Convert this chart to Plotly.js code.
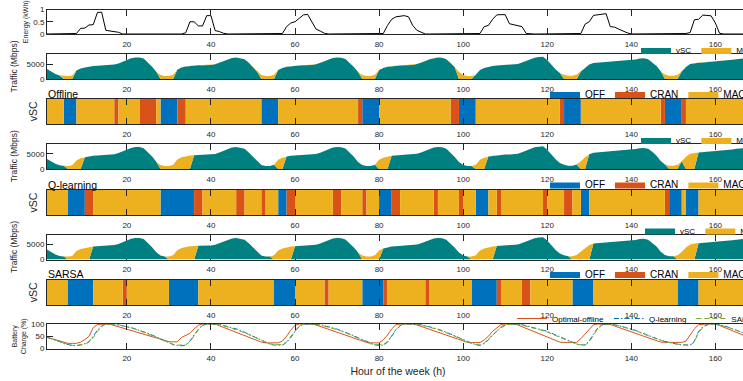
<!DOCTYPE html>
<html><head><meta charset="utf-8">
<script src="https://cdn.plot.ly/plotly-3.0.1.min.js"></script>
<style>html,body{margin:0;padding:0;overflow:hidden;background:#fff}</style>
</head><body><div id="chart"></div>
<script>
// ---------------- DATA ----------------
const hours = Array.from({length:168},(_,i)=>i+1);
const hourTicks = [20,40,60,80,100,120,140,160];

const energyKWh = [
 0,0,0,0,0,0,0,0.02,0.23,0.24,0.37,0.38,0.88,0.89,0.15,0.12,0.1,0.07,0,0,0,0,0,0,
 0,0,0,0,0,0,0,0,0,0.05,0.5,0.5,0.33,0.33,0.75,0.75,0.14,0.1,0.03,0,0,0,0,0,
 0,0,0,0,0,0,0,0,0.02,0.3,0.45,0.5,0.65,0.78,0.8,0.5,0.2,0.12,0.03,0,0,0,0,0,
 0,0,0,0,0,0,0,0,0.02,0.35,0.6,0.7,0.72,0.75,0.7,0.35,0.15,0.08,0,0,0,0,0,0,
 0,0,0,0,0,0,0,0.02,0.3,0.35,0.6,0.78,0.79,0.79,0.42,0.38,0.35,0.3,0.02,0,0,0,0,0,
 0,0,0,0,0,0,0,0.02,0.4,0.5,0.76,0.79,0.8,0.83,0.3,0.28,0.2,0.12,0.05,0,0,0,0,0,
 0,0,0,0,0,0,0,0,0.02,0.06,0.58,0.6,0.77,0.76,0.74,0.45,0.03,0,0,0,0,0,0,0
];

const trafficMbps = [
 3300,2500,1700,1200,1000,1000,1200,2800,3500,3800,4100,4300,4400,4500,4600,4600,4800,5200,5800,6400,6900,7200,7200,6800,
 5500,4100,2400,1300,1000,1000,1400,3100,3800,4200,4400,4500,4600,4600,4600,4700,4900,5400,5900,6500,7000,7200,7000,6600,
 5400,4000,2400,1300,1000,1000,1400,3000,3700,4100,4300,4400,4500,4600,4600,4700,4900,5300,5900,6500,7000,7200,7100,6700,
 5500,4000,2300,1300,1000,1000,1400,3000,3700,4100,4300,4400,4500,4600,4600,4700,5000,5400,6000,6600,7000,7200,7100,6600,
 5300,3900,2300,1300,1000,1000,1400,3000,3700,4100,4300,4500,4600,4700,4700,4800,5000,5500,6100,6700,7100,7300,7400,6300,
 4700,3200,2000,1400,1100,1100,1500,2500,3800,4800,5300,5400,5500,5600,5700,5800,5900,6000,6100,6300,6500,6800,6900,6600,
 5600,4300,2600,1500,1100,1100,1400,2500,4000,5000,5300,5400,5500,5600,5700,5800,5900,6000,6200,6400,6600,6800,6900,7000
];

// vSC operating mode schedules: hour ranges [first, last]; all other hours are MAC/PHY
const offlineOFF  = [[5,7],[28,31],[52,55],[76,79],[99,102],[124,127],[148,151]];
const offlineCRAN = [[17,17],[23,26],[32,33],[75,75],[97,98],[123,123],[147,147],[152,152]];
const qlearnOFF   = [[6,9],[28,35],[56,57],[80,82],[103,105],[128,129],[149,151],[153,155]];
const qlearnCRAN  = [[10,11],[36,37],[46,47],[52,52],[58,59],[69,70],[76,76],[83,84],[93,93],[99,99],[108,108],[119,119],[124,125],[148,148]];
const sarsaOFF    = [[6,11],[30,36],[55,59],[76,80],[102,107],[126,130],[151,155]];
const sarsaCRAN   = [[19,19],[67,67],[81,81],[91,91],[108,108],[114,115]];

const batteryOffline = [
 46,41,35,29,23,21,21,21,26,36,50,85,98,100,100,99,94,89,84,79,74,69,64,59,
 54,49,44,39,33,28,27,27,45,55,62,80,95,100,100,100,100,93,86,79,72,65,58,51,
 44,38,32,26,23,23,23,23,30,50,75,95,100,100,100,100,96,90,84,78,72,66,60,54,
 48,42,36,30,25,23,23,23,35,55,80,97,100,100,100,100,96,90,84,78,72,66,60,54,
 48,42,36,30,25,24,24,24,35,50,70,85,98,100,100,100,96,89,82,75,68,61,54,47,
 40,33,26,25,25,25,25,40,60,80,97,100,100,100,98,92,86,80,74,68,62,56,50,44,
 38,32,26,25,25,25,25,25,30,55,80,97,100,100,100,100,94,87,80,73,66,59,52,45
];
const batteryQ = [
 45,40,34,28,20,15,12,12,14,20,28,50,75,92,100,100,100,96,93,89,85,80,75,69,
 62,55,47,38,30,22,16,12,11,14,30,55,78,95,100,100,100,98,94,90,85,80,74,67,
 58,50,42,34,26,18,14,13,14,25,45,70,90,100,100,100,100,97,93,89,84,79,73,67,
 60,52,44,36,28,20,15,13,14,25,50,75,93,100,100,100,100,97,93,89,84,79,73,67,
 60,52,44,36,28,20,15,13,20,35,55,70,85,95,100,100,100,97,93,89,84,79,76,70,
 63,55,47,40,32,24,18,15,14,30,60,83,97,100,100,97,93,89,85,80,74,67,60,53,
 46,40,34,29,24,20,17,15,14,14,30,70,88,97,100,100,97,93,88,82,75,68,61,54
];
const batterySARSA = [
 46,41,35,29,22,16,13,13,14,18,26,45,70,90,100,100,100,97,93,89,84,79,73,67,
 61,54,46,38,30,22,17,14,13,15,28,52,76,94,100,100,100,97,93,88,83,78,72,65,
 57,49,41,33,25,19,16,15,16,28,48,72,92,100,100,100,100,96,92,87,82,77,71,65,
 58,50,42,34,26,19,16,15,16,28,52,77,95,100,100,100,100,96,92,87,82,77,71,65,
 58,50,42,34,27,20,16,15,22,38,58,74,88,97,100,100,100,96,92,87,82,77,73,67,
 60,52,45,38,31,24,18,15,14,27,55,80,95,100,100,97,93,89,84,79,73,66,59,52,
 45,39,33,28,24,20,17,15,14,13,26,65,85,96,100,100,96,92,87,81,74,67,60,53
];

const modeNames = ['OFF','CRAN','MAC/PHY'];
const trafficNames = ['vSC','MBS'];
const batteryNames = ['Optimal-offline','Q-learning','SARSA'];
const schemeTitles = ['Offline','Q-learning','SARSA'];

// ---------------- STYLE ----------------
const FONT = '"Liberation Sans", Arial, Helvetica, sans-serif';
const AX = '#262626';
const TEAL = '#008080', YEL = '#EDB120', BLUE = '#0072BD', RED = '#D95319', GREEN = '#77AC30';
const modeColors = {'OFF':BLUE,'CRAN':RED,'MAC/PHY':YEL};
const W = 900, H = 381, ML = 47, PW = 702;
// panel pixel extents (top, bottom)
const panels = [[9.5,34],[54,79],[98.5,124],[143.5,169],[190,215],[234.5,259.5],[279.5,305],[324,348.5]];
const dom = p => [(H-p[1])/H, (H-p[0])/H];

function buildModes(off, cran){
  const m = hours.map(()=> 'MAC/PHY');
  off.forEach(([a,b])=>{ for(let h=a;h<=b;h++) m[h-1]='OFF'; });
  cran.forEach(([a,b])=>{ for(let h=a;h<=b;h++) m[h-1]='CRAN'; });
  return m;
}
function rects(modes, cat){
  const xs=[], ys=[]; let i=0;
  while(i<modes.length){
    if(modes[i]===cat){
      const s=i; while(i<modes.length && modes[i]===cat) i++;
      const x0=hours[s], x1=hours[i-1]+1;
      xs.push(x0,x0,x1,x1,x0,null); ys.push(0,1,1,0,0,null);
    } else i++;
  }
  return {xs, ys};
}

const schedules = [buildModes(offlineOFF,offlineCRAN), buildModes(qlearnOFF,qlearnCRAN), buildModes(sarsaOFF,sarsaCRAN)];

const traces = [];
traces.push({x:hours, y:energyKWh, xaxis:'x', yaxis:'y', mode:'lines', line:{color:'#000', width:1}, showlegend:false});

schedules.forEach((modes, k)=>{
  const tIdx = 2 + 2*k, sIdx = 3 + 2*k;
  const legT = k===0 ? 'legend' : 'legend' + (1 + 2*k);
  const legS = 'legend' + (2 + 2*k);
  const vsc = trafficMbps.map((v,i)=> modes[i]==='OFF' ? 0 : v);
  const mb  = trafficMbps.map((v,i)=> modes[i]==='OFF' ? v : 0);
  traces.push({x:hours, y:vsc, xaxis:'x'+tIdx, yaxis:'y'+tIdx, mode:'lines', stackgroup:'s'+k, line:{width:0, color:TEAL}, fillcolor:TEAL, name:trafficNames[0], legend:legT});
  traces.push({x:hours, y:mb,  xaxis:'x'+tIdx, yaxis:'y'+tIdx, mode:'lines', stackgroup:'s'+k, line:{width:0, color:YEL}, fillcolor:YEL, name:trafficNames[1], legend:legT});
  modeNames.forEach(cat=>{
    const r = rects(modes, cat);
    traces.push({x:r.xs, y:r.ys, xaxis:'x'+sIdx, yaxis:'y'+sIdx, mode:'lines', fill:'toself', fillcolor:modeColors[cat], line:{width:0, color:modeColors[cat]}, name:cat, legend:legS, hoverinfo:'skip'});
  });
});

traces.push({x:hours, y:batteryOffline, xaxis:'x8', yaxis:'y8', mode:'lines', line:{color:RED, width:1}, name:batteryNames[0], legend:'legend7'});
traces.push({x:hours, y:batteryQ, xaxis:'x8', yaxis:'y8', mode:'lines', line:{color:BLUE, width:1, dash:'5px,2px,1.5px,2px'}, name:batteryNames[1], legend:'legend7'});
traces.push({x:hours, y:batterySARSA, xaxis:'x8', yaxis:'y8', mode:'lines', line:{color:GREEN, width:1, dash:'5px,3px'}, name:batteryNames[2], legend:'legend7'});

const layout = {
  width:W, height:H, margin:{l:ML, r:W-ML-PW, t:0, b:0, autoexpand:false},
  paper_bgcolor:'#fff', plot_bgcolor:'#fff',
  font:{family:FONT, color:AX, size:8},
  annotations:[], showlegend:true
};

const yCfg = [
  {range:[0,1], tickvals:[0,0.5,1], ticktext:['0','0.5','1'], title:'Energy (kWh)', tsize:7, standoff:3},
  {range:[0,8333], tickvals:[0,5000], title:'Traffic (Mbps)', tsize:8.5, standoff:7},
  {range:[0,1], tickvals:[], title:'vSC', tsize:10.5, standoff:4},
  {range:[0,8333], tickvals:[0,5000], title:'Traffic (Mbps)', tsize:8.5, standoff:7},
  {range:[0,1], tickvals:[], title:'vSC', tsize:10.5, standoff:4},
  {range:[0,8333], tickvals:[0,5000], title:'Traffic (Mbps)', tsize:8.5, standoff:7},
  {range:[0,1], tickvals:[], title:'vSC', tsize:10.5, standoff:4},
  {range:[0,100], tickvals:[0,50,100], title:'Battery<br>Charge (%)', tsize:7, standoff:3}
];

for(let i=1;i<=8;i++){
  const sfx = i===1 ? '' : String(i);
  const isTraffic = (i===2||i===4||i===6);
  const isStrip = (i===3||i===5||i===7);
  layout['xaxis'+sfx] = {
    domain:[0,1], anchor:'y'+sfx, range:[1,168], tickvals:hourTicks,
    ticks:'inside', ticklen:6, tickcolor:AX, tickwidth:1, ticklabelstandoff:2,
    showline:true, linecolor:AX, linewidth:1, mirror:'ticks', showgrid:false, zeroline:false,
    tickfont:{size:8, color:AX, family:FONT},
    layer: isTraffic ? 'below traces' : 'above traces'
  };
  if(i>1) layout['xaxis'+sfx].matches = 'x';
  const c = yCfg[i-1];
  layout['yaxis'+sfx] = {
    domain:dom(panels[i-1]), anchor:'x'+sfx, range:c.range, tickvals:c.tickvals,
    ticks: isStrip ? '' : 'inside', ticklen:6, tickcolor:AX,
    showline:true, linecolor:AX, linewidth:1, mirror: isStrip ? true : 'ticks', showgrid:false, zeroline:false,
    tickfont:{size:8, color:AX, family:FONT},
    title:{text:c.title, font:{size:c.tsize, color:AX, family:FONT}, standoff:c.standoff},
    layer: isTraffic ? 'below traces' : 'above traces'
  };
  if(c.ticktext) layout['yaxis'+sfx].ticktext = c.ticktext;
}
layout.xaxis8.title = {text:'Hour of the week (h)', font:{size:10.5, color:AX, family:FONT}, standoff:5};

function leg(pixX, pixY, size){
  return {x:(pixX-ML)/PW, y:(H-pixY)/H, xanchor:'left', yanchor:'middle', orientation:'h', traceorder:'normal',
    bgcolor:'rgba(0,0,0,0)', borderwidth:0, itemwidth:30, font:{family:FONT, size:size, color:'#000'}};
}
layout.legend  = leg(636, 50, 8);
layout.legend2 = leg(545, 94, 10);
layout.legend3 = leg(636, 140, 8);
layout.legend4 = leg(545, 184.5, 10);
layout.legend5 = leg(640, 230.5, 8);
layout.legend6 = leg(545, 274, 10);
layout.legend7 = leg(512, 318.5, 8);

const titleY = [94, 185, 274];
schemeTitles.forEach((t,k)=>{
  layout.annotations.push({xref:'paper', yref:'paper', x:0, y:(H-titleY[k])/H, xanchor:'left', yanchor:'middle',
    text:t, showarrow:false, font:{family:FONT, size:10.5, color:'#000'}, borderpad:0});
});

Plotly.newPlot('chart', traces, layout, {staticPlot:true, displayModeBar:false});
</script>
</body></html>
